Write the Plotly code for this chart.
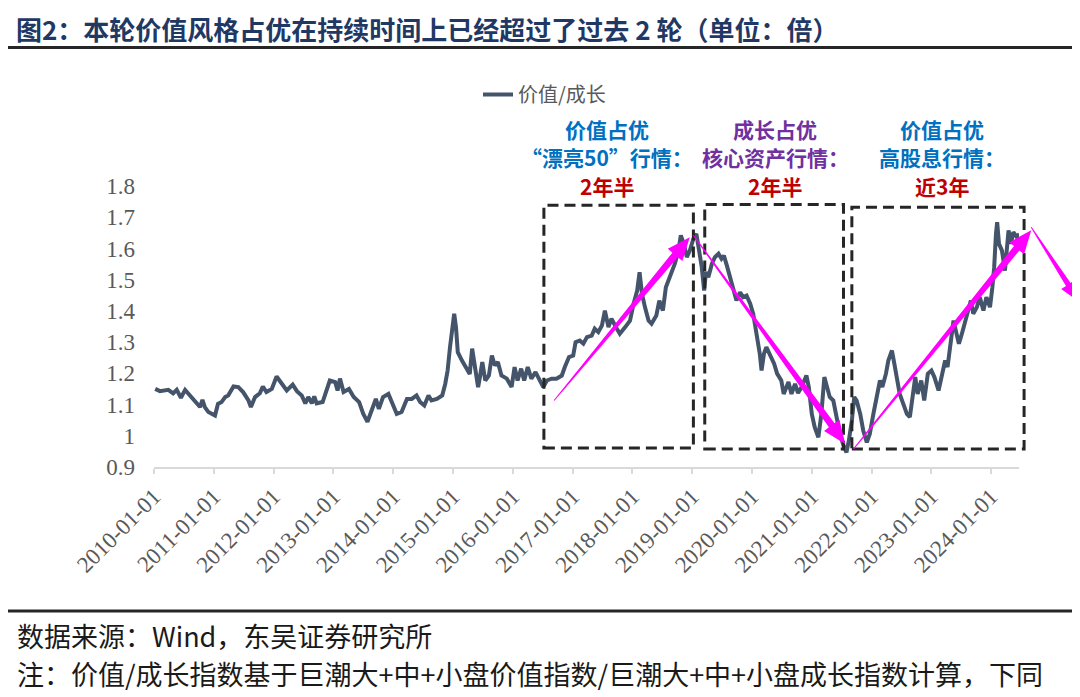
import math
import pandas as pd
import plotly.graph_objects as go

# ---------------- data ----------------
# time in years since 2010-01-01, and the value/growth ratio
t_years = [
    0.02, 0.10, 0.24, 0.32, 0.38, 0.45, 0.52, 0.63, 0.71, 0.77, 0.81, 0.85, 0.91,
    1.02, 1.07, 1.13, 1.19, 1.24, 1.33, 1.41, 1.49, 1.58, 1.62, 1.69, 1.77, 1.82, 1.88, 1.97,
    2.05, 2.14, 2.22, 2.32, 2.39, 2.47, 2.53, 2.58, 2.64, 2.68, 2.72, 2.82, 2.89, 2.94,
    3.03, 3.07, 3.11, 3.17, 3.26, 3.34, 3.43, 3.50, 3.57, 3.64, 3.71, 3.76, 3.83, 3.92, 3.97,
    4.06, 4.14, 4.23, 4.31, 4.39, 4.45, 4.52, 4.59, 4.64, 4.73, 4.82, 4.87, 4.91, 4.95, 4.99,
    5.02, 5.05, 5.08, 5.15, 5.20, 5.25, 5.28, 5.32, 5.37, 5.42, 5.45, 5.49, 5.54, 5.60, 5.65,
    5.70, 5.75, 5.81, 5.90, 5.98, 6.03, 6.08, 6.14, 6.19, 6.25, 6.31, 6.38, 6.45, 6.51, 6.57,
    6.65, 6.73, 6.82, 6.87, 6.94, 7.01, 7.05, 7.12, 7.18, 7.24, 7.32, 7.37, 7.43, 7.49, 7.54,
    7.60, 7.65, 7.74, 7.79, 7.88, 7.96, 8.02, 8.08, 8.12, 8.16, 8.21, 8.27, 8.32, 8.40, 8.45,
    8.51, 8.56, 8.60, 8.66, 8.71, 8.77, 8.81, 8.86, 8.91, 8.96, 9.02, 9.07, 9.12, 9.16, 9.20,
    9.23, 9.27, 9.33, 9.38, 9.44, 9.49, 9.53, 9.58, 9.63, 9.69, 9.74, 9.80, 9.85, 9.91, 9.97,
    10.02, 10.08, 10.13, 10.16, 10.20, 10.24, 10.31, 10.37, 10.42, 10.49, 10.53, 10.61, 10.66,
    10.72, 10.77, 10.83, 10.91, 10.95, 11.00, 11.05, 11.11, 11.16, 11.21, 11.25, 11.30, 11.36,
    11.42, 11.47, 11.53, 11.58, 11.62, 11.67, 11.71, 11.75, 11.81, 11.86, 11.92, 11.97, 12.03,
    12.09, 12.14, 12.18, 12.24, 12.28, 12.34, 12.38, 12.42, 12.47, 12.53, 12.59, 12.64, 12.68,
    12.73, 12.77, 12.83, 12.88, 12.94, 13.00, 13.05, 13.12, 13.18, 13.23, 13.27, 13.33, 13.37,
    13.42, 13.46, 13.51, 13.56, 13.61, 13.66, 13.70, 13.76, 13.81, 13.87, 13.92, 13.98, 14.02,
    14.05, 14.08, 14.10, 14.13, 14.18, 14.23, 14.29, 14.33, 14.37, 14.43, 14.47,
]
ratio = [
    1.150, 1.143, 1.147, 1.136, 1.147, 1.122, 1.147, 1.124, 1.108, 1.092, 1.115, 1.092, 1.076,
    1.065, 1.102, 1.108, 1.124, 1.129, 1.158, 1.156, 1.140, 1.113, 1.092, 1.124, 1.136, 1.158, 1.140, 1.150,
    1.190, 1.166, 1.145, 1.164, 1.143, 1.129, 1.104, 1.124, 1.104, 1.126, 1.104, 1.108, 1.145, 1.177,
    1.172, 1.145, 1.183, 1.140, 1.150, 1.124, 1.108, 1.070, 1.045, 1.081, 1.118, 1.086, 1.124, 1.134, 1.113,
    1.070, 1.076, 1.118, 1.118, 1.129, 1.108, 1.097, 1.129, 1.113, 1.118, 1.129, 1.166, 1.209, 1.284, 1.337,
    1.391, 1.348, 1.268, 1.241, 1.225, 1.209, 1.198, 1.279, 1.220, 1.156, 1.188, 1.236, 1.177, 1.193, 1.257,
    1.225, 1.236, 1.193, 1.183, 1.156, 1.220, 1.177, 1.215, 1.177, 1.220, 1.183, 1.204, 1.177, 1.156, 1.177,
    1.183, 1.183, 1.193, 1.220, 1.252, 1.257, 1.300, 1.305, 1.295, 1.316, 1.321, 1.343, 1.332, 1.353, 1.401,
    1.348, 1.375, 1.343, 1.327, 1.348, 1.369, 1.423, 1.465, 1.524, 1.455, 1.412, 1.369, 1.359, 1.385, 1.433,
    1.401, 1.476, 1.497, 1.524, 1.551, 1.593, 1.642, 1.615, 1.572, 1.593, 1.631, 1.647, 1.593, 1.540, 1.465,
    1.524, 1.508, 1.551, 1.572, 1.583, 1.567, 1.577, 1.545, 1.513, 1.471, 1.433, 1.460, 1.444, 1.449, 1.423,
    1.391, 1.327, 1.263, 1.209, 1.263, 1.284, 1.252, 1.231, 1.199, 1.177, 1.134, 1.172, 1.134,
    1.166, 1.137, 1.156, 1.193, 1.156, 1.070, 1.027, 0.995, 1.070, 1.188, 1.161, 1.124, 1.113,
    1.060, 1.006, 0.969, 0.947, 0.985, 1.049, 1.124, 1.113, 1.070, 1.017, 0.979, 1.006, 1.070,
    1.134, 1.177, 1.156, 1.199, 1.241, 1.273, 1.231, 1.188, 1.134, 1.102, 1.070, 1.060, 1.113,
    1.188, 1.134, 1.177, 1.113, 1.199, 1.209, 1.188, 1.145, 1.199, 1.241, 1.220, 1.305, 1.369,
    1.327, 1.295, 1.327, 1.359, 1.391, 1.433, 1.391, 1.412, 1.444, 1.401, 1.444, 1.412, 1.476,
    1.540, 1.647, 1.684, 1.615, 1.593, 1.529, 1.658, 1.615, 1.652, 1.636, 1.647,
]
series_name = "价值/成长"

y_ticks = [0.9, 1.0, 1.1, 1.2, 1.3, 1.4, 1.5, 1.6, 1.7, 1.8]
y_tick_text = ["0.9", "1", "1.1", "1.2", "1.3", "1.4", "1.5", "1.6", "1.7", "1.8"]

# regime boxes (years since 2010-01-01, ratio bounds)
box_t0 = [6.52, 9.21, 11.67]
box_t1 = [9.02, 11.53, 14.55]
box_v0 = [0.961, 0.958, 0.958]
box_v1 = [1.738, 1.741, 1.732]

# trend arrows (tail -> tip), years / ratio
arrow_t0 = [6.69, 9.02, 11.70, 14.67]
arrow_v0 = [1.113, 1.642, 0.958, 1.668]
arrow_t1 = [8.96, 11.56, 14.67, 15.48]
arrow_v1 = [1.636, 0.974, 1.658, 1.428]

# regime labels
label_t = [7.58, 10.39, 13.18]
label_line1 = ["价值占优", "成长占优", "价值占优"]
label_line2 = ["“漂亮50”行情：", "核心资产行情：", "高股息行情："]
label_line3 = ["2年半", "2年半", "近3年"]
label_colors = ["#0070c0", "#7030a0", "#0070c0"]

title_text = "图2：本轮价值风格占优在持续时间上已经超过了过去 2 轮（单位：倍）"
source_text = "数据来源：Wind，东吴证券研究所"
note_text = "注：价值/成长指数基于巨潮大+中+小盘价值指数/巨潮大+中+小盘成长指数计算，下同"

# ---------------- layout geometry (screen pixels) ----------------
FIG_W, FIG_H = 1080, 697
OFF = 8                       # page body margin in front of the figure
PLOT_L, PLOT_T = 154, 186     # plot area on screen
PW, PH = 865, 281
M_L, M_T = PLOT_L - OFF, PLOT_T - OFF
M_R = FIG_W - M_L - PW
M_B = FIG_H - M_T - PH
Y_MIN, Y_MAX = 0.9, 1.8
T_END = 14.465

BASE = pd.Timestamp("2010-01-01")


def to_date(t):
    return BASE + pd.Timedelta(days=t * 365.25)


def t2px(t):
    return PLOT_L + t / T_END * PW


def v2py(v):
    return PLOT_T + (Y_MAX - v) / (Y_MAX - Y_MIN) * PH


def px2paper(px):
    return (px - PLOT_L) / PW


def py2paper(py):
    return (PLOT_T + PH - py) / PH


dates = [to_date(t) for t in t_years]

fig = go.Figure()
fig.add_trace(go.Scatter(
    x=dates, y=ratio, mode="lines", name=series_name,
    line=dict(color="#44546a", width=4),
))

shapes = []
# dashed boxes
for a, b, c, d in zip(box_t0, box_t1, box_v0, box_v1):
    shapes.append(dict(
        type="rect", xref="paper", yref="paper",
        x0=px2paper(t2px(a)), x1=px2paper(t2px(b)),
        y0=py2paper(v2py(c)), y1=py2paper(v2py(d)),
        line=dict(color="#262626", width=3, dash="11px,6px"),
        fillcolor="rgba(0,0,0,0)", layer="above",
    ))


def tapered_arrow(t0, v0, t1, v1, tw=1.0, sw=7.0, hw=19.0, hl=23.0):
    x0, y0 = t2px(t0), v2py(v0)
    x1, y1 = t2px(t1), v2py(v1)
    L = math.hypot(x1 - x0, y1 - y0)
    dx, dy = (x1 - x0) / L, (y1 - y0) / L
    nx, ny = -dy, dx
    bx, by = x1 - dx * hl, y1 - dy * hl
    pts = [
        (x0 + nx * tw / 2, y0 + ny * tw / 2),
        (bx + nx * sw / 2, by + ny * sw / 2),
        (bx + nx * hw / 2, by + ny * hw / 2),
        (x1, y1),
        (bx - nx * hw / 2, by - ny * hw / 2),
        (bx - nx * sw / 2, by - ny * sw / 2),
        (x0 - nx * tw / 2, y0 - ny * tw / 2),
    ]
    path = "M " + " L ".join(f"{px2paper(px):.5f},{py2paper(py):.5f}" for px, py in pts) + " Z"
    return dict(type="path", xref="paper", yref="paper", path=path,
                fillcolor="#ff00ff", line=dict(width=0), layer="above")


for i, (a, b, c, d) in enumerate(zip(arrow_t0, arrow_v0, arrow_t1, arrow_v1)):
    if i == 3:
        shapes.append(tapered_arrow(a, b, c, d, tw=1.0, sw=5.5, hw=17, hl=21))
    else:
        shapes.append(tapered_arrow(a, b, c, d))

# header / footer rules
shapes.append(dict(type="line", xref="paper", yref="paper",
                   x0=px2paper(OFF), x1=px2paper(FIG_W + OFF), y0=py2paper(47.5), y1=py2paper(47.5),
                   line=dict(color="#262626", width=3)))
shapes.append(dict(type="line", xref="paper", yref="paper",
                   x0=px2paper(OFF), x1=px2paper(FIG_W + OFF), y0=py2paper(611), y1=py2paper(611),
                   line=dict(color="#262626", width=3)))

CJK = "Noto Sans CJK SC"
annotations = []
row_y = [129, 157, 186]
for i in range(3):
    cx = px2paper(t2px(label_t[i]))
    for j, (txt, col) in enumerate([(label_line1[i], label_colors[i]),
                                    (label_line2[i], label_colors[i]),
                                    (label_line3[i], "#c00000")]):
        annotations.append(dict(
            x=cx, y=py2paper(row_y[j]), xref="paper", yref="paper",
            text=f"<b>{txt}</b>", showarrow=False, xanchor="center", yanchor="middle",
            font=dict(family=CJK, size=21, color=col),
        ))

annotations.append(dict(x=px2paper(15), y=py2paper(635), xref="paper", yref="paper",
                        text=source_text, showarrow=False, xanchor="left", yanchor="middle",
                        font=dict(family=CJK, size=27, color="#1a1a1a")))
annotations.append(dict(x=px2paper(15), y=py2paper(673), xref="paper", yref="paper",
                        text=note_text, showarrow=False, xanchor="left", yanchor="middle",
                        font=dict(family=CJK, size=27, color="#1a1a1a")))
# chart title, its box starting at the very top of the figure
annotations.append(dict(x=px2paper(15), y=py2paper(OFF + 1), xref="paper", yref="paper",
                        text=f"<b>{title_text}</b>", showarrow=False,
                        xanchor="left", yanchor="top", borderpad=0,
                        font=dict(family=CJK, size=26, color="#1f3864")))

fig.update_layout(
    width=FIG_W, height=FIG_H, autosize=False,
    margin=dict(l=M_L, r=M_R, t=M_T, b=M_B, pad=0),
    paper_bgcolor="white", plot_bgcolor="white",
    showlegend=True,
    legend=dict(x=px2paper(478), y=py2paper(75), xanchor="left", yanchor="top",
                orientation="h", bgcolor="rgba(0,0,0,0)",
                font=dict(family=CJK, size=20, color="#595959")),
    xaxis=dict(
        type="date", range=[to_date(0), to_date(T_END)],
        tick0="2010-01-01", dtick="M12", tickformat="%Y-%m-%d",
        tickangle=-45, ticks="outside", ticklen=5, tickcolor="#d9d9d9", tickwidth=2,
        showline=True, linecolor="#d9d9d9", linewidth=2, showgrid=False, zeroline=False,
        tickfont=dict(family="Liberation Serif", size=23, color="#595959"),
    ),
    yaxis=dict(
        range=[Y_MIN, Y_MAX], tickmode="array", tickvals=y_ticks, ticktext=y_tick_text,
        showline=False, showgrid=False, zeroline=False, ticks="",
        ticklabelstandoff=18,
        tickfont=dict(family="Liberation Serif", size=23, color="#595959"),
    ),
    shapes=shapes, annotations=annotations,
)

fig.write_html("out.html")
